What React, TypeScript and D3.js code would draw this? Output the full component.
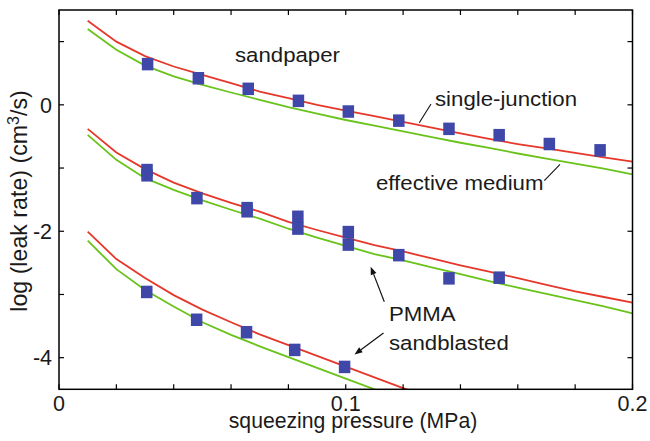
import React from "react";
import * as d3 from "d3";

// Pressure grid (MPa) on which the model curves are evaluated
const PRESSURE = [0.01, 0.02, 0.03, 0.04, 0.05, 0.06, 0.07, 0.08, 0.09, 0.1, 0.11, 0.12, 0.13, 0.14, 0.15, 0.16, 0.17, 0.18, 0.19, 0.2];

// Model curves: log10 leak rate (cm^3/s)
const sandpaperSingle = [1.33, 1.0, 0.77, 0.606, 0.475, 0.343, 0.21, 0.106, 0.0, -0.09, -0.18, -0.27, -0.36, -0.45, -0.54, -0.62, -0.69, -0.76, -0.83, -0.9];
const sandpaperEffective = [1.2, 0.87, 0.62, 0.45, 0.316, 0.195, 0.08, -0.037, -0.14, -0.24, -0.33, -0.42, -0.51, -0.6, -0.68, -0.77, -0.85, -0.93, -1.01, -1.1];
const pmmaSingle = [-0.38, -0.755, -1.017, -1.23, -1.4, -1.55, -1.69, -1.85, -1.98, -2.1, -2.22, -2.32, -2.43, -2.54, -2.64, -2.74, -2.85, -2.95, -3.04, -3.13];
const pmmaEffective = [-0.475, -0.87, -1.16, -1.345, -1.51, -1.66, -1.8, -1.96, -2.1, -2.23, -2.36, -2.46, -2.57, -2.68, -2.79, -2.89, -2.99, -3.09, -3.19, -3.3];
const blastedSingle = [-2.005, -2.44, -2.74, -3.01, -3.24, -3.44, -3.63, -3.8, -3.97, -4.14, -4.31, -4.48, -4.64];
const blastedEffective = [-2.147, -2.6, -2.93, -3.19, -3.44, -3.64, -3.82, -3.99, -4.16, -4.33, -4.5, -4.67];

// Measured leak rates
const sandpaperP = [0.0309, 0.0486, 0.066, 0.0835, 0.1009, 0.1185, 0.136, 0.1535, 0.171, 0.1887];
const sandpaperLog = [0.644, 0.42, 0.253, 0.063, -0.106, -0.25, -0.38, -0.48, -0.62, -0.72];
const pmmaP = [0.0307, 0.0307, 0.0481, 0.0656, 0.0656, 0.0833, 0.0833, 0.1009, 0.1009, 0.1185, 0.136, 0.1535];
const pmmaLog = [-1.032, -1.115, -1.476, -1.634, -1.684, -1.771, -1.958, -2.013, -2.211, -2.378, -2.745, -2.734];
const blastedP = [0.0306, 0.048, 0.0654, 0.0822, 0.0996];
const blastedLog = [-2.96, -3.4, -3.597, -3.877, -4.146];

// Axis labelling
const X_TICK_VALUES = [0, 0.1, 0.2];
const X_TICK_LABELS = ["0", "0.1", "0.2"];
const Y_TICK_VALUES = [0, -2, -4];
const Y_TICK_LABELS = ["0", "-2", "-4"];

const RED = "#e5382b";
const GREEN = "#69c31a";
const MARKER = "#3f47a8";
const FONT = "'Liberation Sans', Arial, Helvetica, sans-serif";

export default function App() {
  const W = 650;
  const H = 441;
  const x = d3.scaleLinear().domain([0, 0.2]).range([59, 632.5]);
  const y = d3.scaleLinear().domain([-4.5, 1.5]).range([389.3, 10]);

  const line = d3
    .line<[number, number]>()
    .x((d) => x(d[0]))
    .y((d) => y(d[1]))
    .curve(d3.curveLinear);

  const zip = (vals: number[]) => vals.map((v, i) => [PRESSURE[i], v] as [number, number]);

  const curves = [
    { vals: sandpaperEffective, color: GREEN },
    { vals: sandpaperSingle, color: RED },
    { vals: pmmaEffective, color: GREEN },
    { vals: pmmaSingle, color: RED },
    { vals: blastedEffective, color: GREEN },
    { vals: blastedSingle, color: RED },
  ];

  const points: [number, number][] = [
    ...sandpaperP.map((p, i) => [p, sandpaperLog[i]] as [number, number]),
    ...pmmaP.map((p, i) => [p, pmmaLog[i]] as [number, number]),
    ...blastedP.map((p, i) => [p, blastedLog[i]] as [number, number]),
  ];

  const [x0, x1] = x.range();
  const [yb, yt] = y.range();
  const tickLen = 5;
  const xTicks = x.ticks(10);
  const yTicks = y.ticks(6);

  const mw = 11.5;
  const mh = 12.5;

  const annot = (txt: string, tx: number, ty: number) => (
    <text
      transform={`translate(${tx},${ty}) scale(1.14,1)`}
      fontSize={19.5}
      fill="#1a1a1a"
    >
      {txt}
    </text>
  );

  const arrow = (fx: number, fy: number, tx: number, ty: number) => {
    const ang = Math.atan2(ty - fy, tx - fx);
    const len = 8;
    const wid = 3;
    const bx = tx - len * Math.cos(ang);
    const by = ty - len * Math.sin(ang);
    const px = -Math.sin(ang) * wid;
    const py = Math.cos(ang) * wid;
    return (
      <g>
        <line x1={fx} y1={fy} x2={bx} y2={by} stroke="#111" strokeWidth={1.2} />
        <path d={`M${tx},${ty}L${bx + px},${by + py}L${bx - px},${by - py}Z`} fill="#111" />
      </g>
    );
  };

  return (
    <svg
      width={W}
      height={H}
      style={{ position: "absolute", left: 0, top: 0, background: "#fff" }}
      fontFamily={FONT}
    >
      <defs>
        <clipPath id="plot-area">
          <rect x={x0} y={yt} width={x1 - x0} height={yb - yt} />
        </clipPath>
      </defs>

      <g clipPath="url(#plot-area)">
        {curves.map((c, i) => (
          <path key={i} d={line(zip(c.vals)) || ""} fill="none" stroke={c.color} strokeWidth={1.8} />
        ))}
      </g>

      {points.map((d, i) => (
        <rect
          key={i}
          x={x(d[0]) - mw / 2}
          y={y(d[1]) - mh / 2}
          width={mw}
          height={mh}
          fill={MARKER}
        />
      ))}

      {/* frame */}
      <rect x={x0} y={yt} width={x1 - x0} height={yb - yt} fill="none" stroke="#000" strokeWidth={1.5} />

      {/* inward ticks on all four sides */}
      {xTicks.map((t, i) => (
        <g key={"xt" + i}>
          <line x1={x(t)} x2={x(t)} y1={yb} y2={yb - tickLen} stroke="#000" strokeWidth={1.2} />
          <line x1={x(t)} x2={x(t)} y1={yt} y2={yt + tickLen} stroke="#000" strokeWidth={1.2} />
        </g>
      ))}
      {yTicks.map((t, i) => (
        <g key={"yt" + i}>
          <line x1={x0} x2={x0 + tickLen} y1={y(t)} y2={y(t)} stroke="#000" strokeWidth={1.2} />
          <line x1={x1} x2={x1 - tickLen} y1={y(t)} y2={y(t)} stroke="#000" strokeWidth={1.2} />
        </g>
      ))}

      {/* tick labels */}
      {X_TICK_VALUES.map((v, i) => (
        <text key={"xl" + i} x={x(v)} y={411} textAnchor="middle" fontSize={21.5} fill="#1a1a1a">
          {X_TICK_LABELS[i]}
        </text>
      ))}
      {Y_TICK_VALUES.map((v, i) => (
        <text key={"yl" + i} x={52} y={y(v)} dy="0.36em" textAnchor="end" fontSize={21.5} fill="#1a1a1a">
          {Y_TICK_LABELS[i]}
        </text>
      ))}

      {/* axis titles */}
      <text x={353} y={427.5} textAnchor="middle" fontSize={21.2} fill="#1a1a1a">
        squeezing pressure (MPa)
      </text>
      <text transform={`translate(27,201) rotate(-90)`} textAnchor="middle" fontSize={23.2} fill="#1a1a1a">
        log (leak rate) (cm
        <tspan fontSize={16} dy={-8}>3</tspan>
        <tspan dy={8}>/s)</tspan>
      </text>

      {/* annotations */}
      {annot("sandpaper", 235, 61.7)}
      {annot("single-junction", 435, 106)}
      {annot("effective medium", 376, 190)}
      {annot("PMMA", 389, 320.7)}
      {annot("sandblasted", 389, 349.5)}

      <line x1={431} y1={104} x2={419.3} y2={122.7} stroke="#111" strokeWidth={1.1} />
      <line x1={544.3} y1={180.7} x2={560} y2={164.3} stroke="#111" strokeWidth={1.1} />
      {arrow(384.3, 301.7, 370.7, 266.7)}
      {arrow(383.5, 333, 354.5, 354.5)}
    </svg>
  );
}
